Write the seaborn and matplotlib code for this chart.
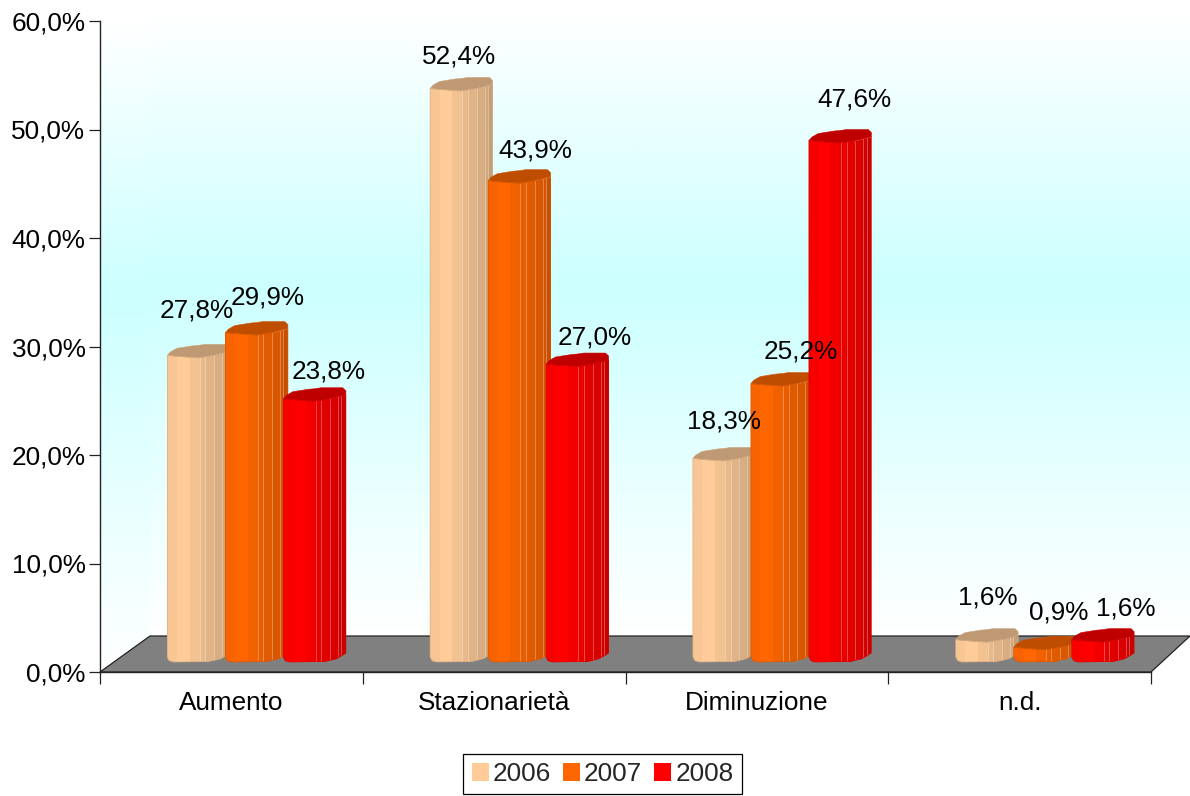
import numpy as np
import pandas as pd
import matplotlib
matplotlib.use("Agg")
import matplotlib.pyplot as plt
from matplotlib.patches import Polygon
from matplotlib.colors import LinearSegmentedColormap, to_rgb
import seaborn as sns

categories = ["Aumento", "Stazionarietà", "Diminuzione", "n.d."]
years = ["2006", "2007", "2008"]
values_2006 = [27.8, 52.4, 18.3, 1.6]
values_2007 = [29.9, 43.9, 25.2, 0.9]
values_2008 = [23.8, 27.0, 47.6, 1.6]
y_ticks = [0, 10, 20, 30, 40, 50, 60]
y_labels = ["0,0%", "10,0%", "20,0%", "30,0%", "40,0%", "50,0%", "60,0%"]
year_colors = ["#FFCC99", "#FF6600", "#FF0000"]

df = pd.DataFrame({
    "categoria": categories * 3,
    "anno": [y for y in years for _ in categories],
    "valore": values_2006 + values_2007 + values_2008,
})

W, H = 1190, 796
L, R, T, B = 100, 1151, 21, 672
sns.set_theme(style="white")
plt.rcParams["font.family"] = ["Liberation Sans", "DejaVu Sans"]
FS = 18.8

fig = plt.figure(figsize=(W / 100, H / 100), dpi=100, facecolor="white")
ax = fig.add_axes([L / W, 1 - B / H, (R - L) / W, (B - T) / H])
ax.set_facecolor("none")

sns.barplot(data=df, x="categoria", y="valore", hue="anno", palette=year_colors,
            hue_order=years, order=categories, width=3 * 58 / 262.75, gap=0,
            saturation=1, linewidth=0, errorbar=None, ax=ax, legend=True, zorder=3)
ax.set_xlim(-0.5, 3.5)
ax.set_ylim(0, 60)

dxp = (R - L) / 4          # px per category
dyp = (B - T) / 60         # px per percent
px2x = lambda px: (px - L) / dxp - 0.5
px2y = lambda py: (B - py) / dyp

# walls
wall = LinearSegmentedColormap.from_list("w", [(0, "#FFFFFF"), (0.44, "#CCFFFF"), (1, "#FFFFFF")])
wall2 = LinearSegmentedColormap.from_list("w2", [(0, "#FFFFFF"), (0.42, "#CCFFFF"), (1, "#FFFFFF")])
grad = np.linspace(0, 1, 400)[:, None]
back = ax.imshow(grad, cmap=wall, aspect="auto", zorder=0, clip_on=False,
                 extent=[px2x(150), px2x(W), px2y(636), px2y(10)], origin="upper")
back.set_clip_on(False)
side = ax.imshow(grad, cmap=wall2, aspect="auto", zorder=0.5,
                 extent=[px2x(L), px2x(150), px2y(672), px2y(21)], origin="upper")
side_poly = Polygon([(px2x(L), px2y(672)), (px2x(150), px2y(636)), (px2x(150), px2y(21)), (px2x(L), px2y(21))],
                    transform=ax.transData, fc="none", ec="none")
ax.add_patch(side_poly)
side.set_clip_path(side_poly)
ax.set_xlim(-0.5, 3.5)
ax.set_ylim(0, 60)

# floor
ax.add_patch(Polygon([(px2x(L), 0), (px2x(150), px2y(636)), (px2x(W), px2y(636)), (px2x(R), 0)],
                     closed=True, fc="#808080", ec="#222222", lw=0.9, zorder=1, clip_on=False))

# cylinder outlines: (fraction of width, px above the left top corner)
cap_low = [(0, 0), (0.15, -1), (0.5, -2.5), (0.75, 0), (1, 4)]
cap_up = [(1, 8), (0.95, 11), (0.6, 11), (0.5, 10), (0.4, 9.5), (0.15, 7), (0.05, 3.5)]
foot = [(1, 4), (0.95, 2), (0.85, -1.5), (0.65, -4.5), (0.1, -5), (0.03, -3.5), (0, 0)]
edges = np.array([0, .15, .355, .516, .602, .742, .871, .925, 1])
mult = np.array([.97, 1, .95, .91, .88, .85, .82, .78])
shift = 23 / dxp
extra = 4.5 / dxp
base = 15 / dyp   # the cylinders stand on the floor, above the axis line

for cont, color in zip(ax.containers, year_colors):
    rgb = np.array(to_rgb(color))
    for bar in cont:
        bar.set_x(bar.get_x() + shift)
        bar.set_y(base)
        x0 = bar.get_x()
        w = bar.get_width() + extra
        y0 = bar.get_y()
        top = y0 + bar.get_height()
        body = [(x0 + u * w, top + v / dyp) for u, v in cap_low]
        body += [(x0 + u * w, y0 + v / dyp) for u, v in foot]
        poly = Polygon(body, closed=True, transform=ax.transData, fc="none", ec="none")
        ax.add_patch(poly)
        bar.set_clip_path(poly)
        colors = (rgb[None, :] * mult[:, None])[None, :, :]
        mesh = ax.pcolormesh(x0 + edges * w, [y0 - 6 / dyp, top + 6 / dyp], colors,
                             shading="flat", zorder=3, linewidth=0)
        mesh.set_clip_path(poly)
        vl = ax.vlines(x0 + edges[3:-1] * w, y0 - 6 / dyp, top + 6 / dyp,
                       colors="white", alpha=0.3, lw=0.7, zorder=3)
        vl.set_clip_path(poly)
        cap = [(x0 + u * w, top + v / dyp) for u, v in cap_low + cap_up]
        ax.add_patch(Polygon(cap, closed=True, fc=rgb * 0.75, ec=rgb * 0.8, lw=0.4, zorder=3))
        ax.add_patch(Polygon(body, closed=True, fc="none", ec=rgb * 0.85, lw=0.5, zorder=3))

# data labels
label_dx = [[0, 13, 16], [0, 18, 20], [2, 21, 17], [3, 16, 25]]
label_dy = [[45, 35, 27], [32, 30, 27], [37, 32, 41], [42, 35, 31]]
for j, (cont, vals) in enumerate(zip(ax.containers, [values_2006, values_2007, values_2008])):
    for i, (bar, v) in enumerate(zip(cont, vals)):
        txt = f"{v:.1f}".replace(".", ",") + "%"
        ax.annotate(txt, (bar.get_x() + bar.get_width() / 2, bar.get_y() + v),
                    xytext=(label_dx[i][j] * 0.72, label_dy[i][j] * 0.72), textcoords="offset points",
                    ha="center", va="center", fontsize=FS, color="black", zorder=6)

# axes
for s in ["top", "right"]:
    ax.spines[s].set_visible(False)
for s in ["left", "bottom"]:
    ax.spines[s].set_color("#222222")
    ax.spines[s].set_linewidth(1.0)
    ax.spines[s].set_zorder(2)
ax.set_xlabel("")
ax.set_ylabel("")
ax.set_yticks(y_ticks, labels=y_labels)
ax.set_xticks(np.arange(-0.5, 4, 1), labels=[""] * 5)
ax.set_xticks(np.arange(4), labels=categories, minor=True)
ax.tick_params(axis="y", length=8, width=0.9, color="#222222", left=True, pad=2.5, labelsize=FS, labelcolor="black")
ax.tick_params(axis="x", which="major", length=8.5, width=0.9, color="#222222", bottom=True)
ax.tick_params(axis="x", which="minor", length=0, pad=13.5, labelsize=FS, labelcolor="black")

# legend
h, l = ax.get_legend_handles_labels()
leg = ax.legend(h, l, ncol=3, loc="center", bbox_to_anchor=(602.5 / W, 1 - 774 / H),
                bbox_transform=fig.transFigure, fontsize=FS, frameon=True, fancybox=False,
                edgecolor="black", facecolor="white", framealpha=1, handlelength=0.66, handleheight=0.68,
                handletextpad=0.15, columnspacing=0.45, borderpad=0.32, borderaxespad=0)
leg.get_frame().set_linewidth(0.9)
leg.set_zorder(7)

fig.savefig("out.png", dpi=100, facecolor="white")
